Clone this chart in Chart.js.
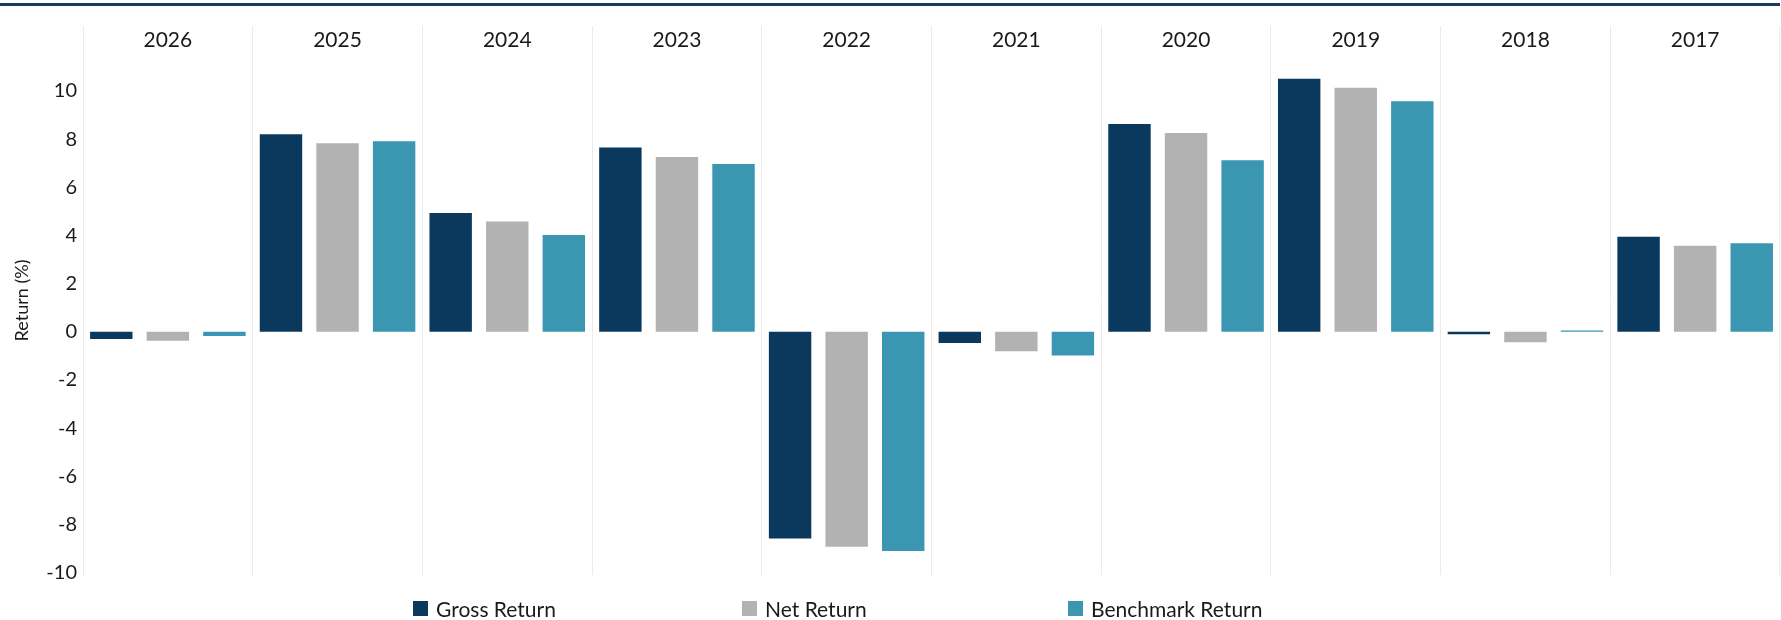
<!DOCTYPE html>
<html>
<head>
<meta charset="utf-8">
<script src="https://cdn.jsdelivr.net/npm/chart.js@4/dist/chart.umd.min.js"></script>
<style>
  html, body { margin: 0; padding: 0; background: #fff; }
  #wrap { position: relative; width: 1781px; height: 620px; }
  #topline { position: absolute; left: 0; top: 3px; width: 1780px; height: 3px; background: #1c3a5c; }
  #legend { position: absolute; top: 596px; left: 0; width: 1781px; height: 24px; font-family: Lato, sans-serif; font-size: 21px; color: #1a1a1a; }
  .item { position: absolute; display: flex; align-items: center; height: 24px; }
  .box { width: 15px; height: 15px; margin-right: 8px; }
</style>
</head>
<body>
<div id="wrap">
  <canvas id="myBarChart1" width="1781" height="620"></canvas>
  <div id="topline"></div>
  <div id="legend"></div>
</div>
<script>
const ctx = document.getElementById('myBarChart1').getContext('2d');

// values
const years = ['2026', '2025', '2024', '2023', '2022', '2021', '2020', '2019', '2018', '2017'];
const grossReturn = [-0.3, 8.2, 4.93, 7.65, -8.58, -0.47, 8.63, 10.51, -0.1, 3.95];
const netReturn = [-0.37, 7.83, 4.58, 7.26, -8.93, -0.81, 8.26, 10.14, -0.43, 3.57];
const benchmarkReturn = [-0.17, 7.91, 4.02, 6.97, -9.1, -0.98, 7.12, 9.57, 0.05, 3.68];
const yTicks = [10, 8, 6, 4, 2, 0, -2, -4, -6, -8, -10];

const seriesNames = ['Gross Return', 'Net Return', 'Benchmark Return'];
const seriesColors = ['#0b395d', '#b2b2b2', '#3b96b1'];

const myBarChart = new Chart(ctx, {
  type: 'bar',
  data: {
    labels: years,
    datasets: [grossReturn, netReturn, benchmarkReturn].map((d, i) => ({
      label: seriesNames[i],
      data: d,
      backgroundColor: seriesColors[i],
      borderWidth: 0,
      categoryPercentage: 1,
      barPercentage: 0.75
    }))
  },
  options: {
    responsive: false,
    animation: false,
    layout: { padding: { top: 26, right: 1, bottom: 45, left: 0 } },
    plugins: {
      legend: { display: false },
      tooltip: { enabled: false }
    },
    scales: {
      x: {
        position: 'top',
        afterFit: (scale) => { scale.height = 0; },
        border: { display: false },
        grid: { offset: true, color: '#ebebeb', lineWidth: 1, drawTicks: false },
        ticks: {
          mirror: true,
          padding: 2,
          color: '#1a1a1a',
          font: { family: 'Lato', size: 21 }
        }
      },
      y: {
        min: -10.1,
        max: 12.7,
        afterFit: (scale) => { scale.width = 83; },
        afterBuildTicks: (scale) => { scale.ticks = yTicks.map(v => ({ value: v })); },
        border: { display: false },
        grid: { display: false, drawTicks: false },
        ticks: {
          padding: 6,
          color: '#1a1a1a',
          font: { family: 'Lato', size: 20 }
        },
        title: {
          display: true,
          text: 'Return (%)',
          color: '#1a1a1a',
          padding: { top: 11, bottom: 0 },
          font: { family: 'Lato', size: 18 }
        }
      }
    }
  }
});

// legend below the chart, items evenly spaced like the original
const legendStarts = [413, 742, 1068];
const legendEl = document.getElementById('legend');
seriesNames.forEach((name, i) => {
  const item = document.createElement('div');
  item.className = 'item';
  item.style.left = legendStarts[i] + 'px';
  item.innerHTML = '<span class="box" style="background:' + seriesColors[i] + '"></span><span>' + name + '</span>';
  legendEl.appendChild(item);
});
</script>
</body>
</html>
